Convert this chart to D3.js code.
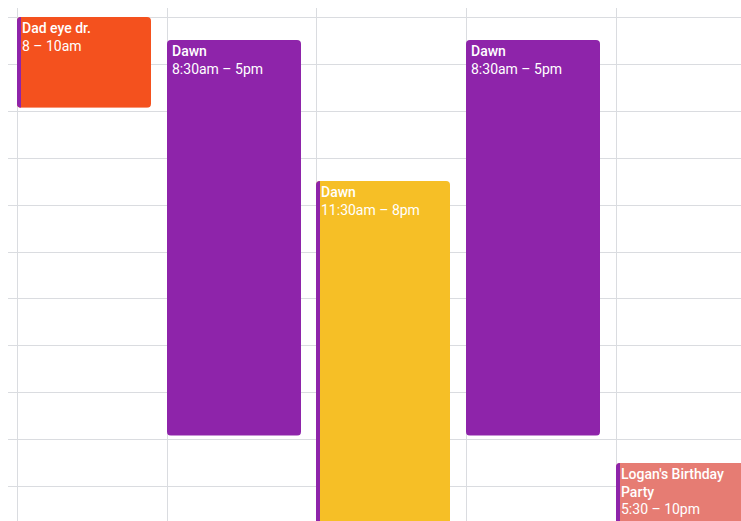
<!DOCTYPE html>
<html>
<head>
<meta charset="utf-8">
<script src="https://cdn.jsdelivr.net/npm/d3@7"></script>
<style>
	html, body { margin: 0; padding: 0; background: #fff; overflow: hidden; }
	svg { display: block; font-family: Roboto, "Noto Sans", sans-serif; }
</style>
</head>
<body>
<svg id="cal" width="741" height="521"></svg>
<script>
// grid: day columns and hour rows
var days = [0, 1, 2, 3, 4];
var hours = [8, 9, 10, 11, 12, 13, 14, 15, 16, 17, 18];

// events
var titles = ["Dad eye dr.", "Dawn", "Dawn", "Dawn", "Logan's Birthday Party"];
var times = ["8 – 10am", "8:30am – 5pm", "11:30am – 8pm", "8:30am – 5pm", "5:30 – 10pm"];
var eventDay = [0, 1, 2, 3, 4];
var startHour = [8, 8.5, 11.5, 8.5, 17.5];
var endHour = [10, 17, 20, 17, 22];
var fillColor = ["#f4511e", "#8e24aa", "#f6bf26", "#8e24aa", "#e67c73"];
var stripeColor = "#8e24aa";

var W = 741, H = 521;
var svg = d3.select("#cal");

var x = d3.scaleLinear().domain([0, 4]).range([17, 615.5]);
var y = d3.scaleLinear().domain([8, 18]).range([17, 486]);
var colW = x(1) - x(0);
var evW = Math.round(colW * 0.895);
var fs = 14;

// grid lines
svg.append("g").selectAll("line").data(hours).join("line")
	.attr("x1", 8).attr("x2", W)
	.attr("y1", function(d) { return Math.round(y(d)) + 0.5; })
	.attr("y2", function(d) { return Math.round(y(d)) + 0.5; })
	.attr("stroke", "#dadce0");

svg.append("g").selectAll("line").data(days).join("line")
	.attr("y1", 8).attr("y2", H)
	.attr("x1", function(d) { return Math.round(x(d)) + 0.5; })
	.attr("x2", function(d) { return Math.round(x(d)) + 0.5; })
	.attr("stroke", "#dadce0");

var events = d3.range(titles.length).map(function(i) {
	return {
		i: i,
		title: titles[i],
		time: times[i],
		left: Math.round(x(eventDay[i])),
		top: Math.round(y(startHour[i])),
		h: y(endHour[i]) - y(startHour[i]) - 3,
		fill: fillColor[i],
		stripe: fillColor[i] != stripeColor
	};
});

var defs = svg.append("defs");
defs.selectAll("clipPath").data(events).join("clipPath")
	.attr("id", function(d) { return "clip" + d.i; })
	.append("rect")
	.attr("x", function(d) { return d.left; })
	.attr("y", function(d) { return d.top; })
	.attr("width", evW).attr("height", function(d) { return d.h; })
	.attr("rx", 4);

var ev = svg.append("g").selectAll("g").data(events).join("g")
	.attr("clip-path", function(d) { return "url(#clip" + d.i + ")"; });

ev.append("rect")
	.attr("x", function(d) { return d.left; })
	.attr("y", function(d) { return d.top; })
	.attr("width", evW).attr("height", function(d) { return d.h; })
	.attr("fill", function(d) { return d.fill; });

ev.filter(function(d) { return d.stripe; }).append("rect")
	.attr("x", function(d) { return d.left; })
	.attr("y", function(d) { return d.top; })
	.attr("width", 4).attr("height", function(d) { return d.h; })
	.attr("fill", stripeColor);

// labels, title wraps to the event width
ev.each(function(d) {
	var g = d3.select(this);
	var tx = d.left + 5;
	var lineH = 17.7;
	var maxW = evW - 10;
	var line = 0;
	var words = d.title.split(" ");
	var cur = [];
	var t = g.append("text").attr("x", tx).attr("y", d.top + 16)
		.attr("fill", "#fff").attr("font-size", fs).attr("font-weight", 500);
	words.forEach(function(w) {
		cur.push(w);
		t.text(cur.join(" "));
		if (t.node().getComputedTextLength() > maxW && cur.length > 1) {
			cur.pop();
			t.text(cur.join(" "));
			line++;
			cur = [w];
			t = g.append("text").attr("x", tx).attr("y", d.top + 16 + line * lineH)
				.attr("fill", "#fff").attr("font-size", fs).attr("font-weight", 500)
				.text(w);
		}
	});
	line++;
	g.append("text").attr("x", tx).attr("y", d.top + 16 + line * lineH)
		.attr("fill", "#fff").attr("font-size", fs)
		.text(d.time);
});
</script>
</body>
</html>
